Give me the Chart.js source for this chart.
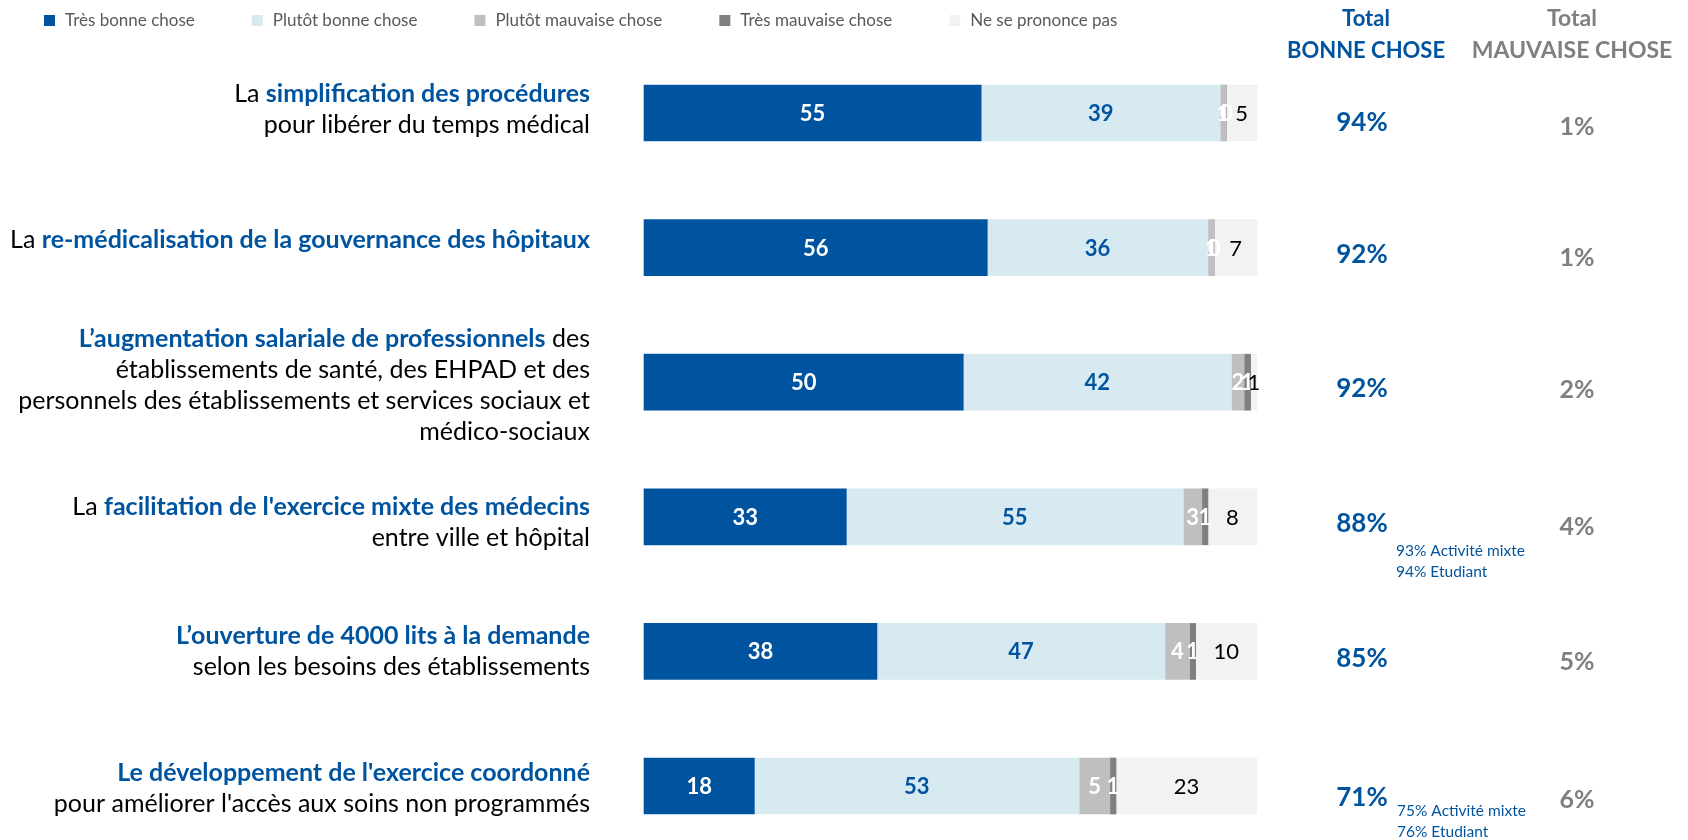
<!DOCTYPE html>
<html><head><meta charset="utf-8">
<script src="https://cdn.jsdelivr.net/npm/chart.js@4"></script>
<style>html,body{margin:0;padding:0;background:#fff}</style>
</head><body>
<canvas id="c" width="1688" height="840"></canvas>
<script>
// ---- DATA ----
const seriesNames = ["Très bonne chose", "Plutôt bonne chose", "Plutôt mauvaise chose", "Très mauvaise chose", "Ne se prononce pas"];
const tresBonne      = [55, 56, 50, 33, 38, 18];
const plutotBonne    = [39, 36, 42, 55, 47, 53];
const plutotMauvaise = [1, 1, 2, 3, 4, 5];
const tresMauvaise   = [0, 0, 1, 1, 1, 1];
const nsp            = [5, 7, 1, 8, 10, 23];
const totalBonne     = ["94%", "92%", "92%", "88%", "85%", "71%"];
const totalMauvaise  = ["1%", "1%", "2%", "4%", "5%", "6%"];
const headerBonne    = ["Total", "BONNE CHOSE"];
const headerMauvaise = ["Total", "MAUVAISE CHOSE"];
const notes = [null, null, null, ["93% Activité mixte", "94% Etudiant"], null, ["75% Activité mixte", "76% Etudiant"]];
// category labels: lines of [text, bold]
const categoryLines = [
  [[["La ", 0], ["simplification des procédures", 1]], [["pour libérer du temps médical", 0]]],
  [[["La ", 0], ["re-médicalisation de la gouvernance des hôpitaux", 1]]],
  [[["L’augmentation salariale de professionnels", 1], [" des", 0]], [["établissements de santé, des EHPAD et des", 0]], [["personnels des établissements et services sociaux et", 0]], [["médico-sociaux", 0]]],
  [[["La ", 0], ["facilitation de l'exercice mixte des médecins", 1]], [["entre ville et hôpital", 0]]],
  [[["L’ouverture de 4000 lits à la demande", 1]], [["selon les besoins des établissements", 0]]],
  [[["Le développement de l'exercice coordonné", 1]], [["pour améliorer l'accès aux soins non programmés", 0]]]
];

// ---- STYLE ----
const FONT = "Lato";
const BLUE = "#00549F";
const colors = ["#00549F", "#D7EAF2", "#BFBFBF", "#7F7F7F", "#F2F2F2"];
const labelStyle = [
  {c: "#FFFFFF", b: true}, {c: "#00549F", b: true}, {c: "#FFFFFF", b: true}, {c: "#FFFFFF", b: true}, {c: "#000000", b: false}
];
const labelDy = [-4, -8, 3, 6, 0, 2];
const bonneDy = [10, 7, 6, 7, 7, 12];
const mauvaiseDy = [14, 10, 8, 10, 11, 14];
const noteLayout = {3: {x: 1396, dy: [34, 55]}, 5: {x: 1397, dy: [25, 46]}};

const raw = [tresBonne, plutotBonne, plutotMauvaise, tresMauvaise, nsp];
const rowTotals = tresBonne.map((_, i) => raw.reduce((s, a) => s + a[i], 0));
const labelsIdx = tresBonne.map((_, i) => i);

const overlay = {
  id: "overlay",
  afterDatasetsDraw(chart) {
    const ctx = chart.ctx;
    const ys = chart.scales.y;
    ctx.save();
    ctx.textBaseline = "middle";
    // value labels
    raw.forEach((arr, d) => {
      const meta = chart.getDatasetMeta(d);
      meta.data.forEach((el, i) => {
        const st = labelStyle[d];
        ctx.font = (st.b ? "bold " : "") + "22px " + FONT;
        ctx.fillStyle = st.c;
        ctx.textAlign = "center";
        ctx.fillText(String(arr[i]), (el.x + el.base) / 2, el.y + 1);
      });
    });
    // category labels
    const rightX = 590, lh = 31, fs = "25px ";
    categoryLines.forEach((lines, i) => {
      const cy = ys.getPixelForValue(i);
      lines.forEach((segs, k) => {
        const y = cy + (k - (lines.length - 1) / 2) * lh + labelDy[i];
        let w = 0;
        segs.forEach(s => { ctx.font = (s[1] ? "bold " : "") + fs + FONT; w += ctx.measureText(s[0]).width; });
        let x = rightX - w;
        ctx.textAlign = "left";
        segs.forEach(s => {
          ctx.font = (s[1] ? "bold " : "") + fs + FONT;
          ctx.fillStyle = s[1] ? BLUE : "#000000";
          ctx.fillText(s[0], x, y);
          x += ctx.measureText(s[0]).width;
        });
      });
      // totals
      ctx.textAlign = "center";
      ctx.font = "bold 26px " + FONT;
      ctx.fillStyle = BLUE;
      ctx.fillText(totalBonne[i], 1362, cy + bonneDy[i]);
      ctx.font = "bold 25px " + FONT;
      ctx.fillStyle = "#7F7F7F";
      ctx.fillText(totalMauvaise[i], 1577, cy + mauvaiseDy[i]);
      if (notes[i]) {
        ctx.textAlign = "left";
        ctx.font = "15.5px " + FONT;
        ctx.fillStyle = BLUE;
        notes[i].forEach((t, k) => ctx.fillText(t, noteLayout[i].x, cy + noteLayout[i].dy[k]));
      }
    });
    // headers
    ctx.textAlign = "center";
    ctx.font = "bold 22px " + FONT;
    ctx.fillStyle = BLUE;
    headerBonne.forEach((t, k) => ctx.fillText(t, 1366, 19 + k * 32));
    ctx.fillStyle = "#7F7F7F";
    ctx.font = "bold 23px " + FONT;
    headerMauvaise.forEach((t, k) => ctx.fillText(t, 1572, 19 + k * 32));
    // legend
    let x = 44;
    ctx.font = "17px " + FONT;
    ctx.textAlign = "left";
    seriesNames.forEach((n, d) => {
      ctx.fillStyle = colors[d];
      ctx.fillRect(x, 15, 11, 11);
      ctx.fillStyle = "#595959";
      ctx.fillText(n, x + 21, 21);
      x += 21 + ctx.measureText(n).width + 57;
    });
    ctx.restore();
  }
};

new Chart(document.getElementById("c"), {
  type: "bar",
  data: {
    labels: labelsIdx,
    datasets: raw.map((arr, d) => ({
      label: seriesNames[d],
      data: arr.map((v, i) => v / rowTotals[i] * 100),
      backgroundColor: colors[d],
      borderWidth: 0,
      barThickness: 56,
      clip: false
    }))
  },
  options: {
    indexAxis: "y",
    responsive: false,
    animation: false,
    layout: {padding: {left: 644, right: 431, top: 113, bottom: 54}},
    scales: {
      x: {stacked: true, min: 0, max: 100, display: false},
      y: {stacked: true, display: false, offset: false}
    },
    plugins: {legend: {display: false}, tooltip: {enabled: false}}
  },
  plugins: [overlay]
});
</script>
</body></html>
